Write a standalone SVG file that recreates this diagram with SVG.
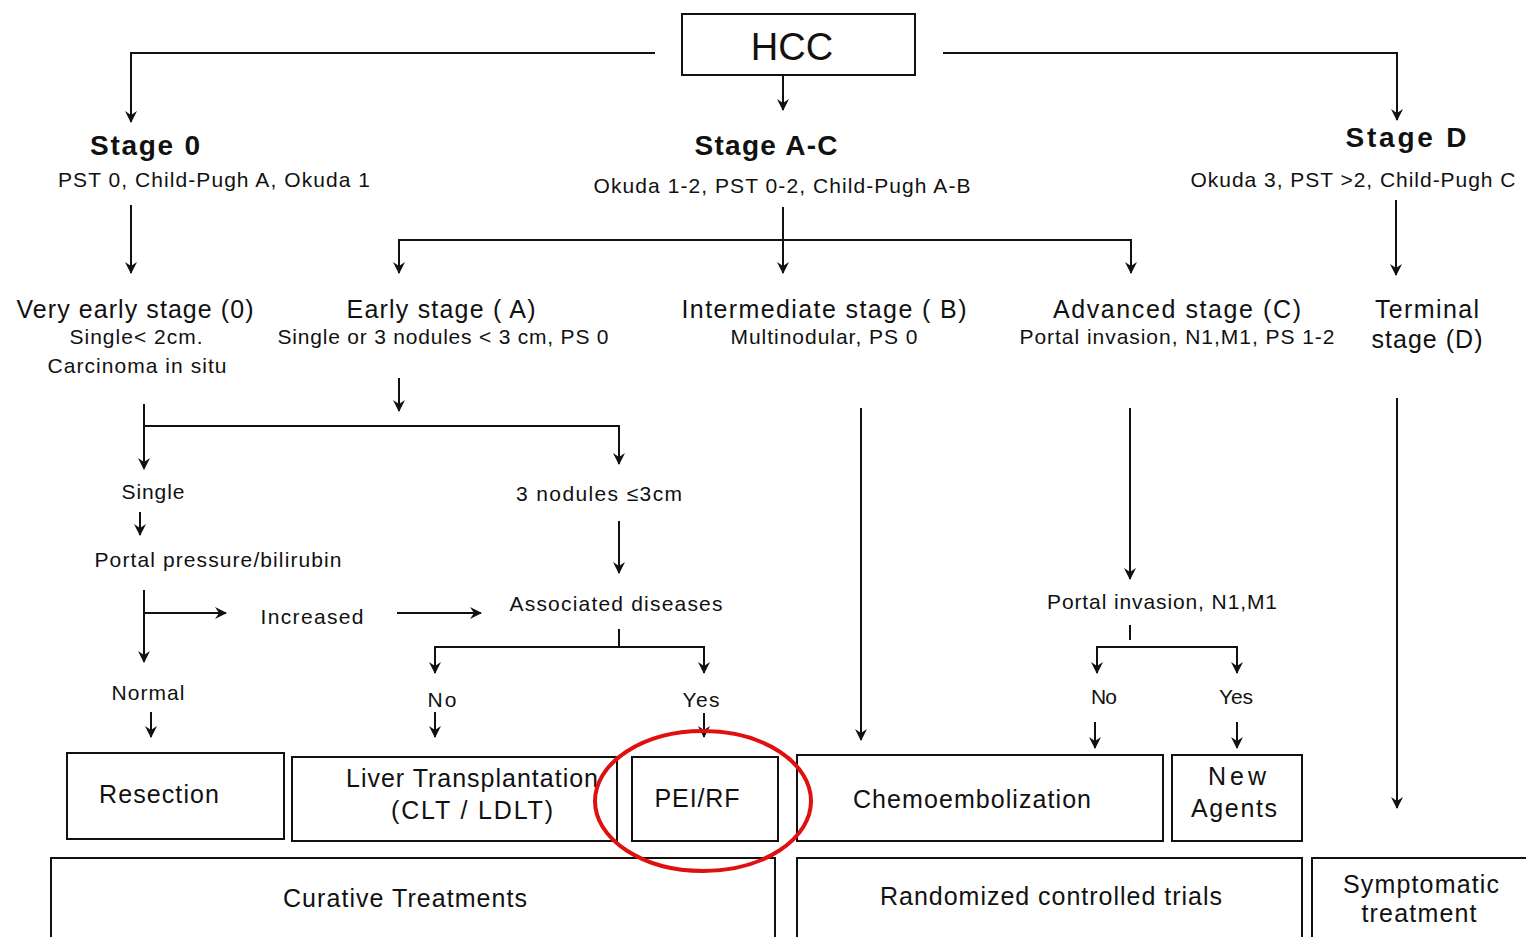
<svg xmlns="http://www.w3.org/2000/svg" width="1526" height="937" viewBox="0 0 1526 937">
<defs>
<marker id="ah" viewBox="0 0 12 12" refX="11" refY="6" markerWidth="12" markerHeight="12" markerUnits="userSpaceOnUse" orient="auto">
<path d="M0,0 L12,6 L0,12 L4,6 Z" fill="#111"/>
</marker>
</defs>
<style>
text{font-family:"Liberation Sans",Arial,sans-serif;fill:#111;text-anchor:middle}
.b{font-weight:bold;font-size:28px}
.h{font-size:25px}
.s{font-size:21px}
.box{fill:#fff;stroke:#111;stroke-width:2}
.c line,.c path{stroke:#111;stroke-width:2;fill:none}
.a{marker-end:url(#ah)}
</style>
<rect width="1526" height="937" fill="#fff"/>
<g class="c" id="connectors">
<path d="M655,53 H131 V122" class="a"/>
<path d="M943,53 H1397 V120" class="a"/>
<line x1="783" y1="75" x2="783" y2="110" class="a"/>
<line x1="131" y1="205" x2="131" y2="273" class="a"/>
<line x1="783" y1="207" x2="783" y2="273" class="a"/>
<path d="M399,273 V240 H1131 V273" class="a"/>
<line x1="399" y1="240" x2="399" y2="273" class="a"/>
<line x1="1396" y1="200" x2="1396" y2="275" class="a"/>
<line x1="399" y1="378" x2="399" y2="411" class="a"/>
<line x1="144" y1="404" x2="144" y2="469" class="a"/>
<path d="M144,426 H619 V464" class="a"/>
<line x1="140" y1="512" x2="140" y2="535" class="a"/>
<line x1="144" y1="590" x2="144" y2="662" class="a"/>
<line x1="144" y1="613" x2="226" y2="613" class="a"/>
<line x1="397" y1="613" x2="481" y2="613" class="a"/>
<line x1="619" y1="521" x2="619" y2="573" class="a"/>
<line x1="619" y1="629" x2="619" y2="647"/>
<path d="M435,673 V647 H704 V673" class="a"/>
<line x1="435" y1="647" x2="435" y2="673" class="a"/>
<line x1="435" y1="712" x2="435" y2="737" class="a"/>
<line x1="704" y1="713" x2="704" y2="737" class="a"/>
<line x1="151" y1="712" x2="151" y2="737" class="a"/>
<line x1="861" y1="408" x2="861" y2="740" class="a"/>
<line x1="1130" y1="408" x2="1130" y2="579" class="a"/>
<line x1="1130" y1="625" x2="1130" y2="640"/>
<path d="M1097,673 V647 H1237 V673" class="a"/>
<line x1="1097" y1="647" x2="1097" y2="673" class="a"/>
<line x1="1095" y1="722" x2="1095" y2="748" class="a"/>
<line x1="1237" y1="722" x2="1237" y2="748" class="a"/>
<line x1="1397" y1="398" x2="1397" y2="808" class="a"/>
</g>
<g id="hcc"><rect class="box" x="682" y="14" width="233" height="61"/><text x="792" y="60" style="font-size:38px">HCC</text></g>
<g id="stage0"><text class="b" x="145" y="155" textLength="110" lengthAdjust="spacing">Stage 0</text><text class="s" x="214" y="187" textLength="312" lengthAdjust="spacing">PST 0, Child-Pugh A, Okuda 1</text></g>
<g id="stageAC"><text class="b" x="766" y="155" textLength="143" lengthAdjust="spacing">Stage A-C</text><text class="s" x="782" y="193" textLength="377" lengthAdjust="spacing">Okuda 1-2, PST 0-2, Child-Pugh A-B</text></g>
<g id="stageD"><text class="b" x="1406" y="147" textLength="121" lengthAdjust="spacing">Stage  D</text><text class="s" x="1353" y="187" textLength="325" lengthAdjust="spacing">Okuda 3, PST &gt;2, Child-Pugh C</text></g>
<g id="veryearly"><text class="h" x="135" y="318" textLength="237" lengthAdjust="spacing">Very early stage (0)</text><text class="s" x="136" y="344" textLength="133" lengthAdjust="spacing">Single&lt; 2cm.</text><text class="s" x="137" y="373" textLength="179" lengthAdjust="spacing">Carcinoma in situ</text></g>
<g id="early"><text class="h" x="441" y="318" textLength="189" lengthAdjust="spacing">Early stage ( A)</text><text class="s" x="443" y="344" textLength="331" lengthAdjust="spacing">Single or 3 nodules  &lt; 3 cm, PS 0</text></g>
<g id="intermediate"><text class="h" x="824" y="318" textLength="285" lengthAdjust="spacing">Intermediate  stage ( B)</text><text class="s" x="824" y="344" textLength="187" lengthAdjust="spacing">Multinodular, PS 0</text></g>
<g id="advanced"><text class="h" x="1177" y="318" textLength="248" lengthAdjust="spacing">Advanced  stage (C)</text><text class="s" x="1177" y="344" textLength="315" lengthAdjust="spacing">Portal invasion, N1,M1, PS 1-2</text></g>
<g id="terminal"><text class="h" x="1427" y="318" textLength="104" lengthAdjust="spacing">Terminal</text><text class="h" x="1427" y="348" textLength="111" lengthAdjust="spacing">stage (D)</text></g>
<g id="single"><text class="s" x="153" y="499" textLength="63" lengthAdjust="spacing">Single</text></g>
<g id="portal"><text class="s" x="218" y="567" textLength="247" lengthAdjust="spacing">Portal pressure/bilirubin</text></g>
<g id="increased"><text class="s" x="312" y="624" textLength="103" lengthAdjust="spacing">Increased</text></g>
<g id="normal"><text class="s" x="148" y="700" textLength="73" lengthAdjust="spacing">Normal</text></g>
<g id="nodules"><text class="s" x="599" y="501" textLength="166" lengthAdjust="spacing">3  nodules ≤3cm</text></g>
<g id="assoc"><text class="s" x="616" y="611" textLength="213" lengthAdjust="spacing">Associated diseases</text></g>
<g id="no1"><text class="s" x="442" y="707" textLength="29" lengthAdjust="spacing">No</text></g>
<g id="yes1"><text class="s" x="701" y="707" textLength="37" lengthAdjust="spacing">Yes</text></g>
<g id="portalinv"><text class="s" x="1162" y="609" textLength="230" lengthAdjust="spacing">Portal invasion, N1,M1</text></g>
<g id="no2"><text class="s" x="1104" y="704" textLength="26" lengthAdjust="spacing">No</text></g>
<g id="yes2"><text class="s" x="1236" y="704" textLength="34" lengthAdjust="spacing">Yes</text></g>
<g id="resection"><rect class="box" x="67" y="753" width="217" height="86"/><text class="h" x="159" y="803" textLength="120" lengthAdjust="spacing">Resection</text></g>
<g id="lt"><rect class="box" x="292" y="757" width="325" height="84"/><text class="h" x="472" y="787" textLength="252" lengthAdjust="spacing">Liver Transplantation</text><text class="h" x="472" y="819" textLength="162" lengthAdjust="spacing">(CLT / LDLT)</text></g>
<g id="pei"><rect class="box" x="632" y="757" width="146" height="84"/><text class="h" x="697" y="807" textLength="85" lengthAdjust="spacing">PEI/RF</text></g>
<g id="chemo"><rect class="box" x="797" y="755" width="366" height="86"/><text class="h" x="972" y="808" textLength="238" lengthAdjust="spacing">Chemoembolization</text></g>
<g id="newagents"><rect class="box" x="1172" y="755" width="130" height="86"/><text class="h" x="1237" y="785" textLength="58" lengthAdjust="spacing">New</text><text class="h" x="1234" y="817" textLength="86" lengthAdjust="spacing">Agents</text></g>
<g id="curative"><rect class="box" x="51" y="858" width="724" height="90"/><text class="h" x="405" y="907" textLength="244" lengthAdjust="spacing">Curative Treatments</text></g>
<g id="rct"><rect class="box" x="797" y="858" width="505" height="90"/><text class="h" x="1051" y="905" textLength="342" lengthAdjust="spacing">Randomized controlled trials</text></g>
<g id="symptomatic"><rect class="box" x="1312" y="858" width="220" height="90"/><text class="h" x="1421" y="893" textLength="156" lengthAdjust="spacing">Symptomatic</text><text class="h" x="1419" y="922" textLength="115" lengthAdjust="spacing">treatment</text></g>
<g id="highlight"><ellipse cx="703" cy="801" rx="108" ry="70" fill="none" stroke="#e01010" stroke-width="4"/></g>
</svg>
